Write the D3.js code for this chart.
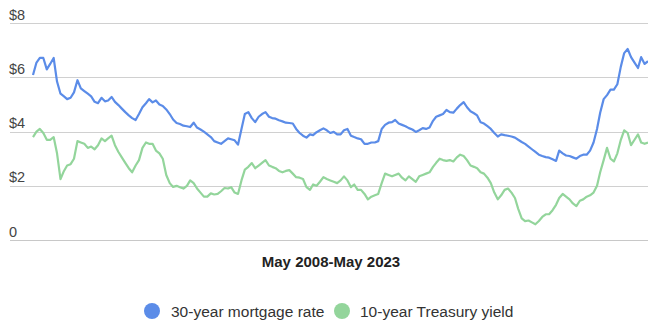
<!DOCTYPE html>
<html>
<head>
<meta charset="utf-8">
<script src="https://cdn.jsdelivr.net/npm/d3@7"></script>
<style>
  html, body { margin: 0; padding: 0; background: #fff; }
  svg { display: block; }
  text { font-family: "Liberation Sans", Arial, sans-serif; }
</style>
</head>
<body>
<svg id="chart" width="648" height="322"></svg>
<script>
// ---- Data (monthly, May 2008 - May 2023) ----
const startMonth = "2008-05";
const endMonth = "2023-05";
const title = "May 2008-May 2023";
const seriesNames = ["30-year mortgage rate", "10-year Treasury yield"];
const yTicks = [0, 2, 4, 6, 8];
const yTickLabels = ["0", "$2", "$4", "$6", "$8"];

const mortgage = [
  6.09, 6.55, 6.72, 6.72, 6.3, 6.5, 6.72, 5.85, 5.4, 5.3, 5.2, 5.25, 5.45, 5.9, 5.6, 5.5, 5.4, 5.3, 5.1, 5.05,
  5.25, 5.12, 5.15, 5.28, 5.1, 4.98, 4.85, 4.72, 4.6, 4.5, 4.43, 4.65, 4.9, 5.05, 5.2, 5.08, 5.15, 5.0, 4.95, 4.82,
  4.65, 4.45, 4.32, 4.28, 4.22, 4.2, 4.17, 4.33, 4.15, 4.08, 4.0, 3.9, 3.8, 3.65, 3.6, 3.55, 3.65, 3.75, 3.72, 3.68,
  3.52, 4.1, 4.65, 4.72, 4.5, 4.35, 4.55, 4.65, 4.72, 4.55, 4.5, 4.48, 4.42, 4.38, 4.33, 4.32, 4.3, 4.1, 3.95, 3.85,
  3.78, 3.9, 3.87, 3.98, 4.05, 4.12, 4.05, 3.95, 3.99, 3.9, 3.9, 4.05, 4.1, 3.85, 3.8, 3.75, 3.72, 3.55, 3.55, 3.6,
  3.6, 3.65, 4.1, 4.25, 4.33, 4.35, 4.43, 4.3, 4.25, 4.2, 4.13, 4.08, 3.99, 4.05, 4.13, 4.1, 4.15, 4.4, 4.55, 4.6,
  4.65, 4.8, 4.72, 4.7, 4.85, 4.98, 5.09, 4.9, 4.75, 4.68, 4.6, 4.35, 4.3, 4.2, 4.1, 3.95, 3.82, 3.9, 3.87, 3.85,
  3.82, 3.78, 3.7, 3.62, 3.55, 3.45, 3.35, 3.25, 3.15, 3.1, 3.06, 3.04, 2.98, 2.92, 3.3, 3.2, 3.12, 3.1, 3.05, 3.0,
  3.1, 3.15, 3.15, 3.3, 3.6, 4.1, 4.7, 5.2, 5.35, 5.55, 5.55, 5.75, 6.4, 6.9, 7.05, 6.75, 6.55, 6.35, 6.75, 6.5,
  6.6
];

const treasury = [
  3.8, 4.0, 4.1, 3.95, 3.7, 3.7, 3.8, 3.2, 2.25, 2.55, 2.75, 2.8, 3.0, 3.65, 3.6, 3.55, 3.4, 3.45, 3.35, 3.5,
  3.75, 3.65, 3.75, 3.85, 3.5, 3.25, 3.05, 2.85, 2.65, 2.5, 2.75, 2.95, 3.4, 3.6, 3.55, 3.55, 3.3, 3.2, 3.0, 2.4,
  2.1, 1.96, 2.0, 1.95, 1.9, 2.0, 2.2, 2.1, 1.9, 1.75, 1.6, 1.6, 1.72, 1.68, 1.7, 1.8, 1.92, 1.9, 1.95, 1.75,
  1.7, 2.2, 2.6, 2.7, 2.84, 2.65, 2.75, 2.85, 2.95, 2.75, 2.7, 2.65, 2.55, 2.5, 2.55, 2.58, 2.45, 2.32, 2.3, 2.25,
  1.95, 1.85, 2.05, 2.0, 2.15, 2.32, 2.25, 2.2, 2.15, 2.1, 2.2, 2.35, 2.2, 1.95, 2.05, 1.85, 1.85, 1.7, 1.5, 1.6,
  1.65, 1.7, 2.1, 2.45, 2.4, 2.35, 2.4, 2.45, 2.3, 2.2, 2.35, 2.25, 2.15, 2.35, 2.4, 2.45, 2.5, 2.7, 2.85, 3.0,
  2.95, 2.92, 2.95, 2.9, 3.05, 3.15, 3.1, 2.95, 2.75, 2.7, 2.65, 2.5, 2.45, 2.3, 2.1, 1.75, 1.5, 1.65, 1.85, 1.9,
  1.75, 1.55, 1.15, 0.8, 0.7, 0.72, 0.65, 0.58, 0.7, 0.85, 0.95, 0.95, 1.1, 1.3, 1.55, 1.7, 1.6, 1.5, 1.35, 1.25,
  1.45, 1.5, 1.6, 1.65, 1.75, 2.0, 2.5, 2.95, 3.4, 3.0, 2.9, 3.2, 3.7, 4.05, 3.95, 3.5, 3.7, 3.9, 3.6, 3.55,
  3.6
];

const colors = ["#5b8ce8", "#93d59b"];

// ---- Drawing ----
const parse = d3.timeParse("%Y-%m");
const t0 = parse(startMonth), t1 = parse(endMonth);
const months = d3.timeMonth.range(t0, d3.timeMonth.offset(t1, 1));

const svg = d3.select("#chart");
const W = 648, H = 322;

const x = d3.scaleTime().domain([t0, t1]).range([33, 648]);
const y = d3.scaleLinear().domain([0, 8]).range([240, 23.3]);

// gridlines
const grid = svg.append("g");
grid.selectAll("line").data(yTicks).join("line")
  .attr("x1", 10).attr("x2", W)
  .attr("y1", d => Math.round(y(d)) + 0.5).attr("y2", d => Math.round(y(d)) + 0.5)
  .attr("stroke", d => d === 0 ? "#c8c8c8" : "#d0d0d0")
  .attr("stroke-width", 1);

// y labels (above gridlines)
svg.append("g").selectAll("text").data(yTicks).join("text")
  .attr("x", 9)
  .attr("y", d => y(d) - 3.5)
  .attr("font-size", 14.5)
  .attr("fill", "#444")
  .text((d, i) => yTickLabels[i]);

// lines
const line = d3.line()
  .x((d, i) => x(months[i]))
  .y(d => y(d))
  .curve(d3.curveLinear);

[treasury, mortgage].forEach((vals, k) => {
  const ci = k === 0 ? 1 : 0;
  svg.append("path")
    .datum(vals)
    .attr("fill", "none")
    .attr("stroke", colors[ci])
    .attr("stroke-width", 2.2)
    .attr("stroke-linejoin", "round")
    .attr("d", line);
});

// title (x-axis label)
svg.append("text")
  .attr("x", 331).attr("y", 266.5)
  .attr("text-anchor", "middle")
  .attr("font-size", 15)
  .attr("font-weight", "bold")
  .attr("fill", "#222")
  .text(title);

// legend
const legend = svg.append("g");
const legendItems = [
  { name: seriesNames[0], color: colors[0], cx: 152, tx: 171 },
  { name: seriesNames[1], color: colors[1], cx: 342, tx: 360 }
];
legendItems.forEach(it => {
  legend.append("circle").attr("cx", it.cx).attr("cy", 311).attr("r", 8).attr("fill", it.color);
  legend.append("text").attr("x", it.tx).attr("y", 316.5)
    .attr("font-size", 15.5).attr("fill", "#333").text(it.name);
});
</script>
</body>
</html>
